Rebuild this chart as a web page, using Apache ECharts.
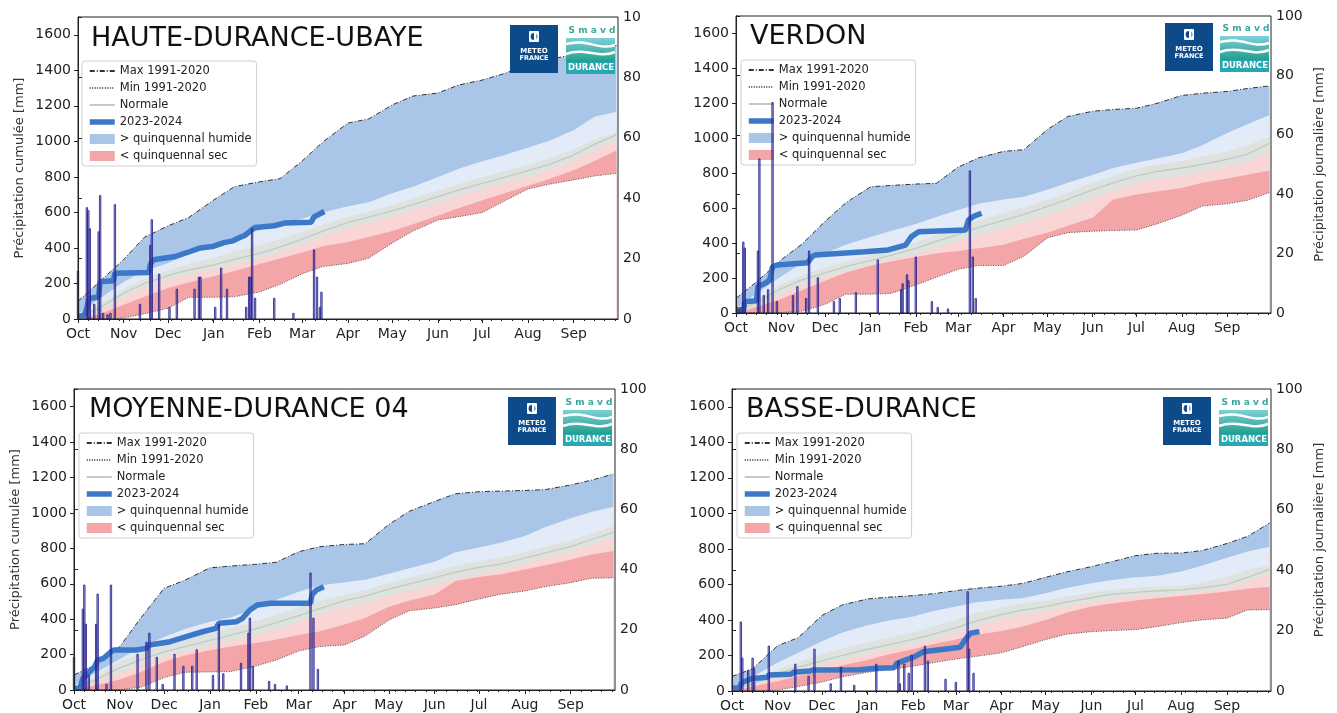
<!DOCTYPE html>
<html><head><meta charset="utf-8">
<script src="https://cdn.jsdelivr.net/npm/echarts@6/dist/echarts.min.js"></script>
<style>html,body{margin:0;padding:0;background:#fff}#c{width:1337px;height:713px}</style>
</head><body><div id="c"></div>
<script>
// ---------- axis / tick data ----------
const monthStartDays = [0,31,61,92,123,152,183,213,244,274,305,336];
const monthLabels = ['Oct','Nov','Dec','Jan','Feb','Mar','Apr','May','Jun','Jul','Aug','Sep'];
const leftTicks = [0,200,400,600,800,1000,1200,1400,1600];
const rightTicks = [0,20,40,60,80,100];
const sampleDates = ['2023-10-01','2023-10-15','2023-11-01','2023-11-15','2023-12-01','2023-12-15','2024-01-01','2024-01-15','2024-02-01','2024-02-15','2024-03-01','2024-03-15','2024-04-01','2024-04-15','2024-05-01','2024-05-15','2024-06-01','2024-06-15','2024-07-01','2024-07-15','2024-08-01','2024-08-15','2024-09-01','2024-09-15','2024-09-30'];

// ---------- HAUTE-DURANCE-UBAYE ----------
const hdMax  = [100,205,335,460,524,571,670,745,772,790,890,997,1103,1126,1205,1255,1272,1317,1345,1379,1430,1460,1490,1515,1540];
const hdQ80  = [30,110,210,270,315,365,415,460,500,535,565,600,635,657,708,745,800,846,888,921,966,1002,1062,1139,1167];
const hdQ60  = [10,80,170,225,275,310,345,380,415,450,490,530,575,605,640,678,722,760,800,830,868,900,955,1010,1055];
const hdNorm = [5,60,145,200,245,275,305,335,370,405,450,495,544,574,608,644,689,726,764,795,835,869,923,983,1036];
const hdQ40  = [3,45,120,175,220,250,280,305,340,375,420,465,512,543,577,612,655,692,730,762,800,835,890,950,1008];
const hdQ20  = [2,25,80,125,175,205,240,270,310,340,375,410,434,462,495,533,582,623,668,705,750,786,837,890,948];
const hdMin  = [0,0,5,30,60,122,122,125,152,195,255,295,313,342,428,495,557,576,599,660,732,758,783,805,820];
const hdCum = [['2023-10-01',15],['2023-10-05',20],['2023-10-07',60],['2023-10-08',100],['2023-10-09',115],['2023-10-15',125],['2023-10-16',210],['2023-10-25',215],['2023-10-26',257],['2023-11-18',262],['2023-11-19',305],['2023-11-20',323],['2023-11-22',335],['2023-12-05',350],['2023-12-16',380],['2023-12-23',400],['2024-01-01',410],['2024-01-08',430],['2024-01-14',440],['2024-01-19',460],['2024-01-22',470],['2024-01-25',490],['2024-01-27',505],['2024-01-29',515],['2024-02-11',525],['2024-02-18',540],['2024-03-07',545],['2024-03-09',575],['2024-03-16',605]];
const hdDaily = [['2023-10-01',16],['2023-10-07',37],['2023-10-08',36],['2023-10-09',30],['2023-10-12',5],['2023-10-15',29],['2023-10-16',41],['2023-10-18',2],['2023-10-21',1.5],['2023-10-23',2],['2023-10-26',38],['2023-11-12',5],['2023-11-19',24.5],['2023-11-20',33],['2023-11-25',15],['2023-12-02',4],['2023-12-07',10],['2023-12-19',10],['2023-12-22',14],['2023-12-23',14],['2024-01-02',4],['2024-01-06',17],['2024-01-10',10],['2024-01-23',4],['2024-01-25',14],['2024-01-26',14],['2024-01-27',30],['2024-01-29',7],['2024-02-11',7],['2024-02-24',2],['2024-03-09',23],['2024-03-11',14],['2024-03-13',4],['2024-03-14',9]];

// ---------- VERDON ----------
const verMax  = [84,177,305,393,525,630,722,730,738,742,835,888,925,935,1050,1125,1155,1165,1172,1200,1245,1258,1268,1285,1300];
const verQ80  = [25,110,210,285,340,390,435,470,510,550,590,625,650,665,705,745,790,830,860,885,915,960,1030,1080,1133];
const verQ60  = [8,80,165,215,260,295,330,362,405,445,490,530,572,605,648,690,745,785,825,850,870,895,925,960,1009];
const verNorm = [5,60,140,190,230,265,300,330,370,410,450,490,530,565,610,650,705,745,785,810,830,850,880,910,971];
const verQ40  = [3,45,110,160,200,235,278,305,335,370,410,445,485,518,560,600,655,700,740,765,785,805,835,865,923];
const verQ20  = [2,35,80,130,185,230,270,295,320,340,355,370,390,425,460,500,545,650,678,695,715,745,770,792,815];
const verMin  = [0,0,3,10,50,108,108,112,160,205,250,272,272,325,430,460,468,472,475,510,560,612,625,645,690];
const verCum = [['2023-10-01',8],['2023-10-06',10],['2023-10-07',65],['2023-10-15',70],['2023-10-16',151],['2023-10-21',170],['2023-10-24',189],['2023-10-26',265],['2023-10-29',275],['2023-11-19',288],['2023-11-22',322],['2023-11-24',332],['2023-12-28',351],['2024-01-13',361],['2024-01-25',389],['2024-01-29',437],['2024-02-03',465],['2024-03-06',475],['2024-03-08',532],['2024-03-12',555],['2024-03-17',571]];
const verDaily = [['2023-10-02',2],['2023-10-04',2],['2023-10-06',24],['2023-10-07',22],['2023-10-16',21],['2023-10-17',52],['2023-10-20',6],['2023-10-23',8],['2023-10-26',71],['2023-10-29',4],['2023-11-09',6],['2023-11-12',9],['2023-11-18',5],['2023-11-20',21],['2023-11-26',12],['2023-12-07',4],['2023-12-11',5],['2023-12-22',7],['2024-01-06',18],['2024-01-22',8],['2024-01-23',10],['2024-01-26',13],['2024-01-27',11],['2024-02-01',19],['2024-02-12',4],['2024-02-16',2],['2024-02-23',1.5],['2024-03-09',48],['2024-03-11',19],['2024-03-13',5]];

// ---------- MOYENNE-DURANCE 04 ----------
const mdMax  = [85,141,245,405,575,620,690,700,710,722,781,809,822,826,935,1010,1065,1108,1120,1123,1127,1132,1158,1185,1220];
const mdQ80  = [25,95,175,240,300,345,385,410,460,510,555,590,608,623,657,688,725,778,805,830,870,920,970,1005,1035];
const mdQ60  = [8,75,160,210,255,285,320,352,388,425,465,505,540,565,605,635,670,700,728,748,780,810,845,885,925];
const mdNorm = [5,55,125,170,215,245,280,310,345,380,420,460,505,530,570,600,635,665,693,710,745,775,810,850,890];
const mdQ40  = [3,40,95,140,185,215,250,278,310,345,385,425,468,492,530,560,595,625,655,675,715,745,780,820,860];
const mdQ20  = [2,25,60,100,160,195,225,245,265,285,310,330,370,407,470,505,540,615,638,652,680,705,735,765,785];
const mdMin  = [0,0,2,15,70,100,102,104,135,170,220,245,254,305,395,448,463,482,514,540,559,584,606,631,633];
const mdCum = [['2023-10-01',10],['2023-10-05',12],['2023-10-07',66],['2023-10-15',132],['2023-10-17',169],['2023-10-21',179],['2023-10-26',216],['2023-10-28',226],['2023-11-12',226],['2023-11-19',235],['2023-11-21',254],['2023-12-05',273],['2023-12-16',301],['2023-12-27',329],['2024-01-05',348],['2024-01-07',377],['2024-01-19',386],['2024-01-23',405],['2024-01-28',452],['2024-02-02',480],['2024-02-11',490],['2024-03-09',490],['2024-03-10',537],['2024-03-13',565],['2024-03-18',583]];
const mdDaily = [['2023-10-01',11],['2023-10-07',27],['2023-10-08',35],['2023-10-09',22],['2023-10-11',5],['2023-10-16',22],['2023-10-17',32],['2023-10-23',2],['2023-10-26',35],['2023-11-13',12],['2023-11-19',16],['2023-11-21',19],['2023-11-26',11],['2023-11-30',2],['2023-12-08',12],['2023-12-14',8],['2023-12-20',8],['2023-12-23',13.5],['2024-01-03',5],['2024-01-07',22],['2024-01-10',5.5],['2024-01-22',9],['2024-01-27',19],['2024-01-28',24],['2024-01-30',8],['2024-02-10',3],['2024-02-14',2],['2024-02-22',1.5],['2024-03-09',39],['2024-03-11',24],['2024-03-14',7]];

// ---------- BASSE-DURANCE ----------
const bdMax  = [82,125,255,300,425,485,518,528,537,548,565,578,590,605,640,670,700,728,762,775,777,790,830,870,945];
const bdQ80  = [20,80,160,215,280,330,370,395,420,450,475,500,515,522,550,580,606,625,640,647,672,705,750,785,812];
const bdQ60  = [5,55,120,165,205,240,275,300,330,365,400,440,470,495,510,530,555,570,582,588,591,610,645,680,709];
const bdNorm = [3,40,95,135,170,200,235,260,290,320,355,395,430,455,475,500,525,545,555,563,569,580,600,640,685];
const bdQ40  = [2,32,75,110,145,175,205,232,262,292,325,365,405,430,452,475,500,518,530,538,548,558,578,615,662];
const bdQ20  = [2,25,55,85,110,145,175,205,235,265,290,315,338,362,400,440,475,492,510,522,535,545,560,575,587];
const bdMin  = [0,0,5,25,50,80,105,120,140,160,180,195,215,249,290,320,334,340,345,362,385,400,410,456,458];
const bdCum = [['2023-10-01',15],['2023-10-06',18],['2023-10-07',39],['2023-10-09',52],['2023-10-15',71],['2023-10-25',77],['2023-10-26',90],['2023-11-10',94],['2023-11-12',105],['2023-11-23',113],['2023-11-25',118],['2023-12-27',120],['2024-01-07',128],['2024-01-19',131],['2024-01-21',156],['2024-01-28',178],['2024-02-02',193],['2024-02-08',221],['2024-03-04',246],['2024-03-08',297],['2024-03-11',325],['2024-03-17',334]];
const bdDaily = [['2023-10-07',23],['2023-10-08',11],['2023-10-12',7],['2023-10-15',11],['2023-10-16',7.5],['2023-10-26',15],['2023-11-13',9],['2023-11-22',5],['2023-11-26',14],['2023-12-07',2.5],['2023-12-14',8],['2023-12-23',2],['2024-01-07',9],['2024-01-22',10],['2024-01-23',2.5],['2024-01-26',9],['2024-01-29',6],['2024-01-31',12],['2024-02-09',15],['2024-02-11',10],['2024-02-23',4],['2024-03-01',3],['2024-03-09',33],['2024-03-10',14],['2024-03-13',6]];

// ---------- helpers ----------
const T0 = Date.parse('2023-10-01');
function dayOf(s){ return Math.round((Date.parse(s) - T0) / 86400000); }
const sampleDays = sampleDates.map(dayOf);
function pts(v){ return sampleDays.map((d,i)=>[d, v[i]]); }
function pairs(list){ return list.map(p=>[dayOf(p[0]), p[1]]); }
const minorTickDays = [];
for (let d = 7; d < 366; d += 7) minorTickDays.push(d);

const C = {
  darkBlue:'#a9c5e8', lightBlue:'#e3ebf8', gray:'#dfe3df', lightPink:'#fad5d5', darkPink:'#f4a5a7',
  normal:'#c2cac2', maxL:'#333333', minL:'#555555', cum:'#3c78c8'
};
const FONT = 'DejaVu Sans';

const panels = [
  {title:'HAUTE-DURANCE-UBAYE', grid:{left:78,top:17,width:540,height:302}, d:[hdMax,hdQ80,hdQ60,hdNorm,hdQ40,hdQ20,hdMin], cum:hdCum, daily:hdDaily, leftName:true, rightName:false, cut100:true, titleXY:[91,39], legendXY:[82,61], logo:[510,25,566,25]},
  {title:'VERDON', grid:{left:736,top:16,width:535,height:297}, d:[verMax,verQ80,verQ60,verNorm,verQ40,verQ20,verMin], cum:verCum, daily:verDaily, leftName:false, rightName:true, cut100:false, titleXY:[750,37], legendXY:[741,60], logo:[1165,23,1220,23]},
  {title:'MOYENNE-DURANCE 04', grid:{left:74,top:389,width:541,height:301}, d:[mdMax,mdQ80,mdQ60,mdNorm,mdQ40,mdQ20,mdMin], cum:mdCum, daily:mdDaily, leftName:true, rightName:false, cut100:false, titleXY:[89,410], legendXY:[79,433], logo:[508,397,563,397]},
  {title:'BASSE-DURANCE', grid:{left:732,top:389,width:539,height:302}, d:[bdMax,bdQ80,bdQ60,bdNorm,bdQ40,bdQ20,bdMin], cum:bdCum, daily:bdDaily, leftName:false, rightName:true, cut100:false, titleXY:[746,410], legendXY:[737,433], logo:[1163,397,1219,397]}
];

const grids=[], xAxes=[], yAxes=[], series=[], legends=[], graphics=[];
const axisLabelStyle = {color:'#222', fontSize:14, fontFamily:FONT};
const lineOnly = {opacity:0};

panels.forEach((P,i)=>{
  grids.push(Object.assign({show:true, z:30, borderColor:'#222', borderWidth:1, backgroundColor:'transparent', containLabel:false}, P.grid));
  xAxes.push({type:'value', gridIndex:i, min:0, max:366, z:30,
    axisLine:{show:true, lineStyle:{color:'#222'}},
    axisTick:{show:true, length:4, customValues:monthStartDays, lineStyle:{color:'#222'}},
    axisLabel:Object.assign({margin:8, customValues:monthStartDays, formatter:v=>monthLabels[monthStartDays.indexOf(v)] || ''}, axisLabelStyle),
    splitLine:{show:false}});
  xAxes.push({type:'value', gridIndex:i, min:0, max:366, position:'bottom', z:30,
    axisLine:{show:false}, axisLabel:{show:false}, splitLine:{show:false},
    axisTick:{show:true, length:2, customValues:minorTickDays, lineStyle:{color:'#222'}}});
  yAxes.push({type:'value', gridIndex:i, min:0, max:1700, interval:200, position:'left', z:30,
    name: P.leftName ? 'Précipitation cumulée [mm]' : '', nameLocation:'middle', nameRotate:90, nameGap:52,
    nameTextStyle:{color:'#333', fontSize:13, fontFamily:FONT},
    axisLine:{show:true, lineStyle:{color:'#222'}},
    axisTick:{show:true, length:4, customValues:leftTicks, lineStyle:{color:'#222'}},
    axisLabel:Object.assign({margin:7, customValues:leftTicks, formatter:v=>String(v)}, axisLabelStyle),
    splitLine:{show:false}});
  yAxes.push({type:'value', gridIndex:i, min:0, max:100, interval:20, position:'right', z:30,
    name: P.rightName ? 'Précipitation journalière [mm]' : '', nameLocation:'middle', nameRotate:90, nameGap:42,
    nameTextStyle:{color:'#333', fontSize:13, fontFamily:FONT},
    axisLine:{show:true, lineStyle:{color:'#222'}},
    axisTick:{show:true, length:4, customValues:rightTicks, lineStyle:{color:'#222'}},
    axisLabel:Object.assign({margin:5, customValues:rightTicks, formatter: v => (P.cut100 && v===100) ? '10' : String(v)}, axisLabelStyle),
    splitLine:{show:false}});

  const [mx,q80,q60,nm,q40,q20,mn] = P.d;
  const xi = 2*i, yl = 2*i, yr = 2*i+1;
  // bands painted top-down: each curve filled down to the axis, the next one covers the lower part
  const fill = (name, v, color) => ({type:'line', name, data:pts(v), xAxisIndex:xi, yAxisIndex:yl,
    symbol:'none', silent:true, lineStyle:{width:0}, color, areaStyle:{color, opacity:1}, z:1});
  series.push(fill('> quinquennal humide', mx, C.darkBlue));
  series.push(fill('_lb'+i, q80, C.lightBlue));
  series.push(fill('_gr'+i, q60, C.gray));
  series.push(fill('_lp'+i, q40, C.lightPink));
  series.push(fill('< quinquennal sec', q20, C.darkPink));
  series.push(fill('_wh'+i, mn, '#ffffff'));
  const line = (name, data, color, ls, z) => ({type:'line', name, data, xAxisIndex:xi, yAxisIndex:yl,
    symbol:'none', showSymbol:false, silent:true, color, lineStyle:Object.assign({color}, ls), z});
  series.push(line('Normale', pts(nm), C.normal, {width:1.3}, 3));
  series.push(line('Max 1991-2020', pts(mx), C.maxL, {width:1, type:[5,2,1,2]}, 3));
  series.push(line('Min 1991-2020', pts(mn), C.minL, {width:1, type:[1,1.5]}, 3));
  series.push(line('2023-2024', pairs(P.cum), C.cum, {width:5.5}, 5));
  series.push({type:'bar', name:'daily'+i, data:pairs(P.daily), xAxisIndex:xi, yAxisIndex:yr,
    barWidth:2.2, silent:true, z:10,
    itemStyle:{color:'rgba(125,110,205,0.6)', borderColor:'#1b1b85', borderWidth:0.8}});

  legends.push({left:P.legendXY[0], top:P.legendXY[1], orient:'vertical', selectedMode:false,
    itemWidth:25, itemHeight:10, itemGap:3, padding:[3,5,3,5],
    backgroundColor:'rgba(255,255,255,0.85)', borderColor:'#cfcfcf', borderWidth:1, borderRadius:3,
    textStyle:{fontSize:11.5, color:'#222', fontFamily:FONT, lineHeight:14},
    data:[
      {name:'Max 1991-2020', itemStyle:lineOnly}, {name:'Min 1991-2020', itemStyle:lineOnly},
      {name:'Normale', itemStyle:lineOnly},
      {name:'2023-2024', itemStyle:lineOnly, lineStyle:{width:5.5, color:C.cum}},
      {name:'> quinquennal humide', icon:'rect', itemStyle:{color:C.darkBlue}},
      {name:'< quinquennal sec', icon:'rect', itemStyle:{color:C.darkPink}}
    ]});

  graphics.push({type:'text', z:50, style:{text:P.title, x:P.titleXY[0], y:P.titleXY[1],
    font:'27px "DejaVu Sans"', fill:'#111', verticalAlign:'middle', align:'left'}});

  const [lx,ly,sx,sy] = P.logo;
  graphics.push(
    {type:'rect', z:100, shape:{x:lx, y:ly, width:48, height:48}, style:{fill:'#0d4a8a'}},
    {type:'rect', z:101, shape:{x:lx+19, y:ly+6, width:10, height:11, r:1}, style:{fill:'#ffffff'}},
    {type:'circle', z:102, shape:{cx:lx+24, cy:ly+11.5, r:3.4}, style:{fill:'#0d4a8a'}},
    {type:'rect', z:103, shape:{x:lx+24, y:ly+8, width:2.5, height:7}, style:{fill:'#ffffff'}},
    {type:'text', z:101, style:{text:'METEO', x:lx+24, y:ly+26, font:'bold 7px "DejaVu Sans"', fill:'#fff', align:'center', verticalAlign:'middle'}},
    {type:'text', z:101, style:{text:'FRANCE', x:lx+24, y:ly+33, font:'bold 6.5px "DejaVu Sans"', fill:'#fff', align:'center', verticalAlign:'middle'}},
    {type:'rect', z:100, shape:{x:sx, y:sy, width:49, height:49}, style:{fill:'#ffffff'}},
    {type:'text', z:101, style:{text:'S m a v d', x:sx+26, y:sy+6, font:'bold 9px "DejaVu Sans"', fill:'#3aa89c', align:'center', verticalAlign:'middle'}},
    {type:'rect', z:101, shape:{x:sx, y:sy+13, width:49, height:24},
      style:{fill:new echarts.graphic.LinearGradient(0,0,0,1,[{offset:0,color:'#7fd0d8'},{offset:1,color:'#1f9f8c'}])}},
    {type:'bezierCurve', z:102, shape:{x1:sx, y1:sy+19, x2:sx+49, y2:sy+20, cpx1:sx+22, cpy1:sy+13, cpx2:sx+32, cpy2:sy+26}, style:{stroke:'#ffffff', lineWidth:2.5, fill:null}},
    {type:'bezierCurve', z:102, shape:{x1:sx, y1:sy+29, x2:sx+49, y2:sy+27, cpx1:sx+18, cpy1:sy+22, cpx2:sx+34, cpy2:sy+34}, style:{stroke:'#ffffff', lineWidth:2.5, fill:null}},
    {type:'rect', z:101, shape:{x:sx, y:sy+37, width:49, height:12}, style:{fill:'#27a7b0'}},
    {type:'text', z:102, style:{text:'DURANCE', x:sx+25, y:sy+43, font:'bold 8.5px "DejaVu Sans"', fill:'#fff', align:'center', verticalAlign:'middle'}}
  );
});

const chart = echarts.init(document.getElementById('c'), null, {renderer:'canvas'});
chart.setOption({
  animation:false,
  backgroundColor:'#ffffff',
  textStyle:{fontFamily:FONT},
  grid:grids, xAxis:xAxes, yAxis:yAxes, series, legend:legends, graphic:graphics
});
</script></body></html>
